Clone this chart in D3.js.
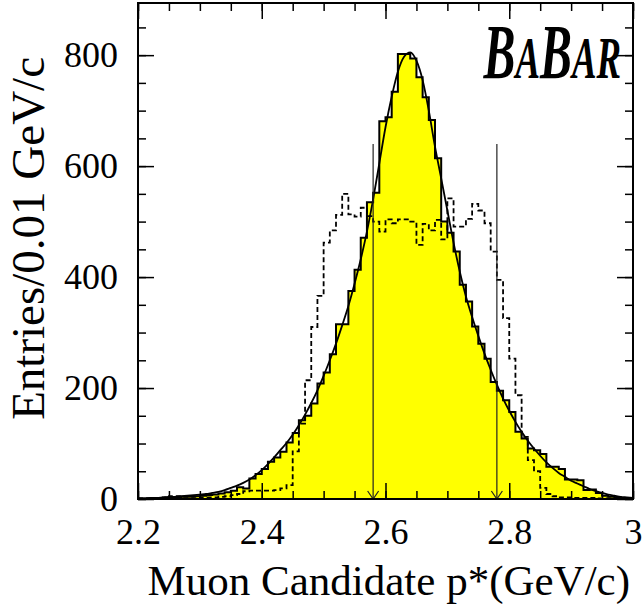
<!DOCTYPE html>
<html>
<head>
<meta charset="utf-8">
<script src="https://cdn.jsdelivr.net/npm/d3@7/dist/d3.min.js"></script>
<style>
  body { margin: 0; background: #fff; }
  svg { display: block; }
</style>
</head>
<body>
<svg id="chart"></svg>
<script>
const width = 642;
const height = 609;

// bins of 0.01 GeV/c from 2.20 to 3.00
const binStart = 2.2;
const binWidth = 0.01;

// selected muon candidates (yellow histogram)
const muonCounts = [
  1, 1, 1, 2, 2, 3, 3, 4, 4, 5,
  6, 7, 8, 10, 12, 15, 21, 19, 37, 45,
  54, 67, 75, 85, 102, 119, 142, 150, 172, 208,
  228, 261, 315, 315, 375, 413, 471, 535, 552, 681,
  688, 734, 802, 802, 794, 760, 724, 683, 614, 500,
  480, 446, 386, 356, 311, 280, 253, 211, 195, 178,
  157, 121, 109, 91, 88, 81, 58, 58, 54, 35,
  35, 34, 16, 17, 11, 6, 4, 3, 2, 1
];

// dashed histogram
const dashedCounts = [
  1, 1, 1, 2, 3, 5, 5, 4, 4, 4,
  3, 3, 3, 4, 5, 7, 9, 14, 15, 15,
  15, 15, 16, 19, 25, 86, 136, 214, 310, 366,
  462, 484, 512, 550, 513, 509, 525, 510, 500, 482,
  504, 497, 504, 504, 500, 458, 496, 484, 503, 468,
  542, 491, 491, 505, 532, 520, 497, 446, 395, 326,
  253, 187, 112, 70, 50, 20, 9, 5, 3, 3,
  2, 2, 2, 2, 1, 1, 1, 1, 1, 0
];

// fitted curve, read at 2.20, 2.21, ... 3.00
const fitValues = [
  1, 1, 2, 2, 3, 4, 4, 5, 6, 7,
  8, 9, 11, 13, 16, 20, 24, 29, 35, 43,
  52, 63, 75, 88, 101, 116, 133, 152, 173, 196,
  222, 250, 280, 313, 348, 388, 432, 482, 540, 605,
  670, 725, 770, 797, 805, 790, 755, 700, 635, 578,
  520, 462, 410, 365, 328, 294, 262, 233, 206, 181,
  159, 139, 121, 105, 91, 78, 66, 56, 47, 40,
  33, 28, 23, 18, 14, 11, 8, 6, 4, 3,
  2
];

// selection cut arrows
const cutValues = [2.58, 2.78];
const cutTop = 640;

const xTickValues = [2.2, 2.4, 2.6, 2.8, 3.0];
const xTickLabels = ["2.2", "2.4", "2.6", "2.8", "3"];
const yTickValues = [0, 200, 400, 600, 800];
const yTickLabels = ["0", "200", "400", "600", "800"];

const plotLeft = 138, plotRight = 633, plotTop = 3, plotBottom = 499;
const serif = "Liberation Serif, Times New Roman, serif";

const svg = d3.select("#chart").attr("width", width).attr("height", height);

const x = d3.scaleLinear().domain([2.2, 3.0]).range([plotLeft, plotRight]);
const y = d3.scaleLinear().domain([0, 894]).range([plotBottom, plotTop]);

svg.append("clipPath").attr("id", "clip")
  .append("rect").attr("x", plotLeft).attr("y", plotTop)
  .attr("width", plotRight - plotLeft).attr("height", plotBottom - plotTop);

const plot = svg.append("g").attr("clip-path", "url(#clip)");

function steps(counts) {
  const pts = counts.map((c, i) => [binStart + i * binWidth, c]);
  pts.push([binStart + counts.length * binWidth, counts[counts.length - 1]]);
  return pts;
}

const muonSteps = steps(muonCounts);
const dashedSteps = steps(dashedCounts);

// yellow fill
plot.append("path")
  .datum(muonSteps)
  .attr("fill", "#ffff00")
  .attr("d", d3.area()
    .x(d => x(d[0]))
    .y0(y(0))
    .y1(d => y(d[1]))
    .curve(d3.curveStepAfter));

const stepLine = d3.line()
  .x(d => x(d[0]))
  .y(d => y(d[1]))
  .curve(d3.curveStepAfter);

plot.append("path")
  .datum(muonSteps)
  .attr("fill", "none")
  .attr("stroke", "#000")
  .attr("stroke-width", 2)
  .attr("d", stepLine);

plot.append("path")
  .datum(dashedSteps)
  .attr("fill", "none")
  .attr("stroke", "#000")
  .attr("stroke-width", 1.8)
  .attr("stroke-dasharray", "5,3")
  .attr("d", stepLine);

// fit
plot.append("path")
  .datum(fitValues.map((v, i) => [binStart + i * binWidth, v]))
  .attr("fill", "none")
  .attr("stroke", "#000")
  .attr("stroke-width", 1.8)
  .attr("d", d3.line()
    .x(d => x(d[0]))
    .y(d => y(d[1]))
    .curve(d3.curveMonotoneX));

// arrows
cutValues.forEach(c => {
  const cx = x(c);
  plot.append("line")
    .attr("x1", cx).attr("x2", cx)
    .attr("y1", y(cutTop)).attr("y2", y(0))
    .attr("stroke", "#222").attr("stroke-width", 1.2);
  plot.append("path")
    .attr("d", `M${cx - 5.5},${y(0) - 8}L${cx},${y(0)}L${cx + 5.5},${y(0) - 8}`)
    .attr("fill", "none").attr("stroke", "#222").attr("stroke-width", 1.2);
});

// axes with inward ticks on all sides
function styleAxis(g) {
  g.select(".domain").remove();
  g.selectAll(".tick line").attr("stroke", "#000").attr("stroke-width", 1.5);
}

svg.append("g").attr("transform", `translate(0,${plotBottom})`)
  .call(d3.axisBottom(x).tickValues(x.ticks(16)).tickSize(-8).tickFormat(""))
  .call(styleAxis);
svg.append("g").attr("transform", `translate(0,${plotTop})`)
  .call(d3.axisTop(x).tickValues(x.ticks(16)).tickSize(-8).tickFormat(""))
  .call(styleAxis);
svg.append("g").attr("transform", `translate(${plotLeft},0)`)
  .call(d3.axisLeft(y).tickValues(y.ticks(18)).tickSize(-8).tickFormat(""))
  .call(styleAxis);
svg.append("g").attr("transform", `translate(${plotRight},0)`)
  .call(d3.axisRight(y).tickValues(y.ticks(18)).tickSize(-8).tickFormat(""))
  .call(styleAxis);

const xAxis = svg.append("g").attr("transform", `translate(0,${plotBottom})`)
  .call(d3.axisBottom(x).tickValues(xTickValues).tickSize(-16).tickPadding(19)
    .tickFormat((d, i) => xTickLabels[i]))
  .call(styleAxis);
svg.append("g").attr("transform", `translate(0,${plotTop})`)
  .call(d3.axisTop(x).tickValues(xTickValues).tickSize(-16).tickFormat(""))
  .call(styleAxis);
const yAxis = svg.append("g").attr("transform", `translate(${plotLeft},0)`)
  .call(d3.axisLeft(y).tickValues(yTickValues).tickSize(-16).tickPadding(20)
    .tickFormat((d, i) => yTickLabels[i]))
  .call(styleAxis);
svg.append("g").attr("transform", `translate(${plotRight},0)`)
  .call(d3.axisRight(y).tickValues(yTickValues).tickSize(-16).tickFormat(""))
  .call(styleAxis);

[xAxis, yAxis].forEach(g => g.selectAll("text")
  .attr("font-family", serif)
  .attr("font-size", 36)
  .attr("fill", "#000"));

// frame
svg.append("rect")
  .attr("x", plotLeft).attr("y", plotTop)
  .attr("width", plotRight - plotLeft).attr("height", plotBottom - plotTop)
  .attr("fill", "none").attr("stroke", "#000").attr("stroke-width", 2);

// titles
svg.append("text")
  .attr("x", 630).attr("y", 595)
  .attr("text-anchor", "end")
  .attr("font-family", serif)
  .attr("font-size", 43)
  .text("Muon Candidate p*(GeV/c)");

svg.append("text")
  .attr("transform", "translate(44,57) rotate(-90)")
  .attr("text-anchor", "end")
  .attr("font-family", serif)
  .attr("font-size", 47)
  .text("Entries/0.01 GeV/c");

// BaBar logo
const logo = svg.append("text")
  .attr("font-family", serif)
  .attr("font-style", "italic")
  .attr("font-weight", "bold");
[["B", 78], ["A", 60], ["B", 78], ["A", 60], ["R", 60]].forEach(([ch, fs]) => {
  logo.append("tspan").attr("font-size", fs).text(ch);
});
const bb = logo.node().getBBox();
const sx = 138 / bb.width;
logo.attr("transform", `translate(483,78) scale(${sx},1) translate(${-bb.x},0)`);
</script>
</body>
</html>
